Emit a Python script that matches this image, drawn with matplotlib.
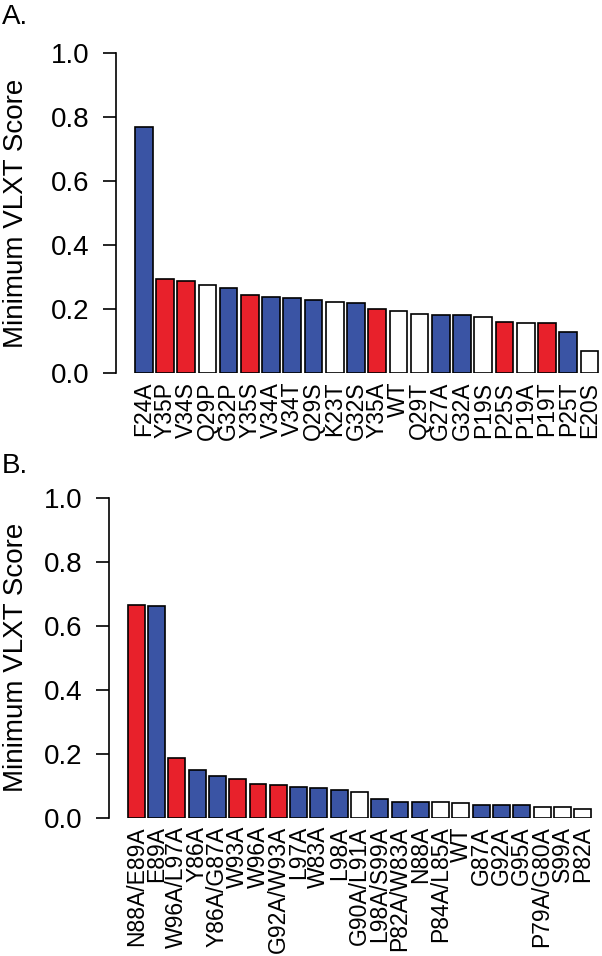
import numpy as np
import matplotlib
matplotlib.use("Agg")
import matplotlib.pyplot as plt

plt.rcParams['font.family'] = ['Liberation Sans', 'DejaVu Sans']

# panel A data
names_a = ['F24A', 'Y35P', 'V34S', 'Q29P', 'G32P', 'Y35S', 'V34A', 'V34T', 'Q29S', 'K23T', 'G32S',
           'Y35A', 'WT', 'Q29T', 'G27A', 'G32A', 'P19S', 'P25S', 'P19A', 'P19T', 'P25T', 'E20S']
vals_a = [0.770, 0.295, 0.289, 0.275, 0.267, 0.246, 0.238, 0.235, 0.229, 0.224, 0.221,
          0.200, 0.196, 0.185, 0.181, 0.181, 0.175, 0.161, 0.156, 0.156, 0.129, 0.071]
cols_a = ['b', 'r', 'r', 'w', 'b', 'r', 'b', 'b', 'b', 'w', 'b',
          'r', 'w', 'w', 'b', 'b', 'w', 'r', 'w', 'r', 'b', 'w']

# panel B data
names_b = ['N88A/E89A', 'E89A', 'W96A/L97A', 'Y86A', 'Y86A/G87A', 'W93A', 'W96A', 'G92A/W93A',
           'L97A', 'W83A', 'L98A', 'G90A/L91A', 'L98A/S99A', 'P82A/W83A', 'N88A', 'P84A/L85A',
           'WT', 'G87A', 'G92A', 'G95A', 'P79A/G80A', 'S99A', 'P82A']
vals_b = [0.665, 0.662, 0.187, 0.149, 0.130, 0.121, 0.105, 0.102,
          0.095, 0.094, 0.087, 0.079, 0.058, 0.049, 0.048, 0.048,
          0.047, 0.040, 0.040, 0.040, 0.034, 0.032, 0.027]
cols_b = ['r', 'b', 'r', 'b', 'b', 'r', 'r', 'r',
          'b', 'b', 'b', 'w', 'b', 'b', 'b', 'w',
          'w', 'b', 'b', 'b', 'w', 'w', 'w']

palette = {'b': '#3A54A4', 'r': '#E8212B', 'w': 'white'}
yticks = [0.0, 0.2, 0.4, 0.6, 0.8, 1.0]

W, H = 602, 956
fig = plt.figure(figsize=(W / 100, H / 100), dpi=100)


def panel(names, vals, cols, left_px, zero_px, letter, letter_y):
    n = len(names)
    x = 0.2 + np.arange(n) * 1.2 + 0.5
    lo, hi = 0.2, 0.2 + (n - 1) * 1.2 + 1
    ext = 0.04 * (hi - lo)
    ax = fig.add_axes([left_px / W, 1 - zero_px / H, 500.5 / W, 320 / H])
    ax.bar(x, vals, width=1.0, color=[palette[c] for c in cols],
           edgecolor='black', linewidth=1.2)
    ax.set_xlim(lo - ext, hi + ext)
    ax.set_ylim(0, 1)
    for s in ['top', 'right', 'bottom']:
        ax.spines[s].set_visible(False)
    ax.spines['left'].set_linewidth(1.2)
    ax.set_yticks(yticks)
    ax.set_yticklabels(['%.1f' % t for t in yticks], fontsize=20)
    ax.tick_params(axis='y', length=9.5, width=1.2, pad=10)
    ax.set_xticks(x)
    ax.set_xticklabels(names, rotation=90, fontsize=16.5, va='top')
    ax.tick_params(axis='x', length=0, pad=6)
    fig.text(16 / W, 1 - (zero_px - 160) / H, 'Minimum VLXT Score', rotation=90,
             ha='center', va='center', fontsize=20)
    fig.text(2 / W, 1 - letter_y / H, letter, ha='left', va='top', fontsize=20)
    return ax


panel(names_a, vals_a, cols_a, 116.3, 373.3, 'A.', 4)
panel(names_b, vals_b, cols_b, 109.2, 817.7, 'B.', 453)

fig.savefig('out.png', dpi=100)
